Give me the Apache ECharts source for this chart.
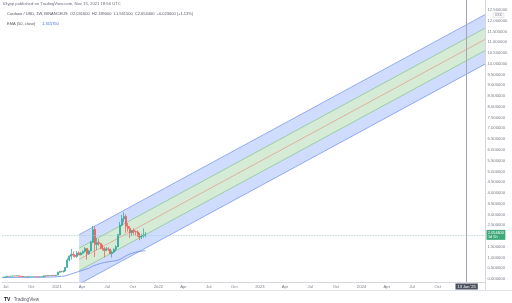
<!DOCTYPE html>
<html><head><meta charset="utf-8">
<script src="https://cdn.jsdelivr.net/npm/echarts@6/dist/echarts.min.js"></script>
<style>html,body{margin:0;padding:0;background:#fff}#c{width:512px;height:303px}</style>
</head><body><div id="c"></div>
<script>
// ---- data ----
const weeks = ['2020-06-22','2020-06-29','2020-07-06','2020-07-13','2020-07-20','2020-07-27','2020-08-03','2020-08-10','2020-08-17','2020-08-24','2020-08-31','2020-09-07','2020-09-14','2020-09-21','2020-09-28','2020-10-05','2020-10-12','2020-10-19','2020-10-26','2020-11-02','2020-11-09','2020-11-16','2020-11-23','2020-11-30','2020-12-07','2020-12-14','2020-12-21','2020-12-28',
'2021-01-04','2021-01-11','2021-01-18','2021-01-25','2021-02-01','2021-02-08','2021-02-15','2021-02-22','2021-03-01','2021-03-08','2021-03-15','2021-03-22','2021-03-29','2021-04-05','2021-04-12','2021-04-19','2021-04-26','2021-05-03','2021-05-10','2021-05-17','2021-05-24','2021-05-31','2021-06-07','2021-06-14','2021-06-21','2021-06-28','2021-07-05','2021-07-12','2021-07-19','2021-07-26','2021-08-02','2021-08-09','2021-08-16','2021-08-23','2021-08-30','2021-09-06','2021-09-13','2021-09-20','2021-09-27','2021-10-04','2021-10-11','2021-10-18','2021-10-25','2021-11-01','2021-11-08','2021-11-15'];
const opens  = [.078,.084,.098,.128,.125,.136,.140,.138,.148,.123,.115,.090,.094,.092,.098,.100,.104,.105,.100,.092,.098,.104,.150,.140,.160,.155,.168,.160,
.180,.310,.350,.340,.380,.540,.880,1.060,1.150,1.100,1.050,1.210,1.120,1.200,1.280,1.420,1.170,1.300,1.700,2.300,1.600,1.700,1.640,1.550,1.420,1.320,1.400,1.380,1.180,1.250,1.380,1.500,2.050,2.500,2.800,2.900,2.450,2.350,2.150,2.250,2.200,2.180,2.100,1.950,2.000,2.0316];
const highs  = [.088,.100,.130,.136,.140,.160,.150,.155,.152,.128,.120,.100,.098,.100,.104,.106,.110,.112,.104,.102,.108,.155,.175,.175,.162,.175,.175,.185,
.340,.380,.380,.400,.560,.960,1.100,1.400,1.280,1.160,1.300,1.280,1.250,1.330,1.480,1.440,1.360,1.780,2.470,2.450,1.900,1.850,1.680,1.600,1.480,1.480,1.470,1.400,1.330,1.420,1.560,2.100,2.650,2.970,3.100,3.000,2.600,2.450,2.280,2.350,2.250,2.250,2.150,2.100,2.350,2.189];
const lows   = [.075,.080,.095,.118,.120,.128,.126,.130,.120,.110,.085,.085,.088,.085,.094,.096,.100,.100,.088,.086,.094,.100,.120,.135,.140,.150,.140,.150,
.180,.290,.310,.300,.360,.520,.820,.900,1.020,1.000,.990,1.100,1.100,1.150,1.230,.900,1.130,1.280,1.660,1.020,1.350,1.550,1.380,1.320,1.000,1.300,1.300,1.150,1.000,1.200,1.280,1.480,2.000,2.450,2.640,2.150,2.200,1.900,2.000,2.050,2.000,1.950,1.800,1.850,1.920,1.9415];
const closes = [.084,.098,.128,.125,.136,.140,.138,.148,.123,.115,.090,.094,.092,.098,.100,.104,.105,.100,.092,.098,.104,.150,.140,.160,.155,.168,.160,.180,
.310,.350,.340,.380,.540,.880,1.060,1.150,1.100,1.050,1.210,1.120,1.200,1.280,1.420,1.170,1.300,1.700,2.300,1.600,1.700,1.640,1.550,1.420,1.320,1.400,1.380,1.180,1.250,1.380,1.500,2.050,2.500,2.800,2.900,2.450,2.350,2.150,2.250,2.200,2.180,2.100,1.950,2.000,2.030,2.0544];
const ema50  = [.062,.063,.065,.067,.069,.071,.073,.075,.077,.078,.079,.079,.080,.080,.081,.081,.082,.082,.082,.083,.083,.084,.086,.088,.090,.093,.095,.098,
.107,.115,.123,.132,.146,.171,.202,.235,.265,.292,.324,.351,.380,.410,.444,.468,.496,.537,.597,.630,.666,.697,.724,.746,.763,.779,.798,.815,.826,.837,.852,.871,.909,.961,1.021,1.082,1.124,1.160,1.188,1.217,1.244,1.268,1.285,1.297,1.306,1.3157];

const channelDates  = ['2021-03-22','2025-03-20'];
const channelCenter = [0.91, 11.13];
const innerDev = 0.52;
const outerDev = 1.15;

const markerDate = '2025-01-13';
const markerLabel = "13 Jan '25";
const lastPrice = 2.0544;
const lastPriceLabel = '2.054400\n1d 5h';

const timeTickDates  = ['2020-07-01','2020-10-01','2021-01-01','2021-04-01','2021-07-01','2021-10-01','2022-01-01','2022-04-01','2022-07-01','2022-10-01','2023-01-01','2023-04-01','2023-07-01','2023-10-01','2024-01-01','2024-04-01','2024-07-01','2024-10-01'];
const timeTickLabels = ['Jul','Oct','2021','Apr','Jul','Oct','2022','Apr','Jul','Oct','2023','Apr','Jul','Oct','2024','Apr','Jul','Oct'];
const priceTicks = [0,0.5,1,1.5,2,2.5,3,3.5,4,4.5,5,5.5,6,6.5,7,7.5,8,8.5,9,9.5,10,10.5,11,11.5,12,12.5];

// ---- build ----
const T = s => Date.parse(s + 'T00:00:00Z');
const candleData = weeks.map((w,i)=>[T(w), opens[i], closes[i], lows[i], highs[i]]);
const emaData = weeks.map((w,i)=>[T(w), ema50[i]]);
const cd = channelDates.map(T);
const pts = off => cd.map((t,i)=>[t, channelCenter[i] + off]);
// band rows: [t0, t1, lo0, lo1, hi0, hi1, colorIndex]
const bandRows = [
  [cd[0], cd[1], channelCenter[0]-outerDev, channelCenter[1]-outerDev, channelCenter[0]-innerDev, channelCenter[1]-innerDev, 0],
  [cd[0], cd[1], channelCenter[0]-innerDev, channelCenter[1]-innerDev, channelCenter[0]+innerDev, channelCenter[1]+innerDev, 1],
  [cd[0], cd[1], channelCenter[0]+innerDev, channelCenter[1]+innerDev, channelCenter[0]+outerDev, channelCenter[1]+outerDev, 0]
];
const tickTs = timeTickDates.map(T);
const tickLabelFor = v => { let best='', bd=Infinity; tickTs.forEach((t,i)=>{const d=Math.abs(t-v); if(d<bd){bd=d;best=timeTickLabels[i];}}); return bd < 864e5 ? best : ''; };

const FONT = 'Liberation Sans';
const GREY = '#787b86';
const bandFills = ['#d0dcfd', '#d6ebd5'];
const blueEdge = '#7c97f4', greenEdge = '#88c48c', redEdge = '#e3978a';

function edge(data, color, w){
  return {type:'line', data, symbol:'none', silent:true, lineStyle:{color, width:w||0.8}, z:2};
}

const chart = echarts.init(document.getElementById('c'), null, {renderer:'canvas'});
chart.setOption({
  animation:false,
  backgroundColor:'#fff',
  grid:{left:0, right:27, top:0, bottom:21, containLabel:false},
  xAxis:{type:'value', min:T('2020-06-18'), max:T('2025-03-20'),
    axisLine:{show:true, onZero:false, lineStyle:{color:'#d6d8de', width:1}},
    axisTick:{show:false},
    splitLine:{show:false},
    axisLabel:{customValues:tickTs, formatter:v=>tickLabelFor(v), fontSize:4.2, color:GREY, fontFamily:FONT, margin:2.5, hideOverlap:false, showMinLabel:true, showMaxLabel:true}
  },
  yAxis:{type:'value', position:'right', min:-0.14, max:12.96, scale:true,
    axisLine:{show:true, lineStyle:{color:'#d6d8de', width:1}},
    axisTick:{show:false},
    splitLine:{show:false},
    axisLabel:{customValues:priceTicks, formatter:v=>Number(v).toFixed(6), fontSize:4.2, color:GREY, fontFamily:FONT, margin:2.5}
  },
  series:[
    {type:'custom', data:bandRows, silent:true, clip:true, z:1,
      encode:{x:[0,1], y:[2,3,4,5]},
      renderItem:(params, api)=>{
        const p = [api.coord([api.value(0), api.value(2)]), api.coord([api.value(1), api.value(3)]),
                   api.coord([api.value(1), api.value(5)]), api.coord([api.value(0), api.value(4)])];
        return {type:'polygon', shape:{points:p}, style:{fill:bandFills[api.value(6)], stroke:null}};
      }},
    edge(pts(-outerDev), blueEdge),
    edge(pts(outerDev), blueEdge),
    edge(pts(-innerDev), greenEdge),
    edge(pts(innerDev), greenEdge),
    edge(pts(0), redEdge, 0.7),
    {type:'line', data:emaData, symbol:'none', silent:true, lineStyle:{color:'#6f8fe8', width:0.8}, z:3},
    {type:'candlestick', data:candleData, barWidth:1.5, z:4, silent:true,
      itemStyle:{color:'#26a69a', color0:'#ef5350', borderColor:'#26a69a', borderColor0:'#ef5350', borderWidth:0.7},
      markLine:{symbol:'none', silent:true, animation:false,
        data:[
          {yAxis:lastPrice, lineStyle:{color:'#9ccfc9', type:'dotted', width:0.8},
            label:{position:'end', formatter:lastPriceLabel, backgroundColor:'#3fa87a', color:'#fff', fontSize:3.8, lineHeight:4.5, padding:[0.5,1.5], distance:1.5, fontFamily:FONT}},
          {xAxis:T(markerDate), lineStyle:{color:'#a3a6ae', type:'solid', width:1},
            label:{position:'start', formatter:markerLabel, backgroundColor:'#4c525e', color:'#fff', fontSize:4, padding:[1,2], distance:1.5, fontFamily:FONT}}
        ]}
    }
  ],
  graphic:[
    {type:'line', shape:{x1:0,y1:290.5,x2:512,y2:290.5}, style:{stroke:'#e0e3eb', lineWidth:1}, silent:true},
    {type:'line', shape:{x1:485.5,y1:282,x2:485.5,y2:290}, style:{stroke:'#d6d8de', lineWidth:1}, silent:true},
    {type:'text', left:3, top:2, style:{text:'k3ypp published on TradingView.com, Nov 15, 2021 18:56 UTC', fontSize:4.2, fill:'#6a6d78', fontFamily:FONT}},
    {type:'text', left:7, top:12, style:{text:'Cardano / USD, 1W, BINANCEUS  O2.031600  H2.189000  L1.941500  C2.054400  +0.023000 (+1.13%)', fontSize:4, fill:'#555862', fontFamily:FONT}},
    {type:'text', left:7, top:17.5, style:{rich:{a:{fontSize:4, fill:'#555862', fontFamily:FONT}, b:{fontSize:4, fill:'#3a66e0', fontFamily:FONT}}, text:'{a|EMA (50, close)}  {b|1.315750}'}},
    {type:'text', left:493, top:12.5, style:{text:'USD', fontSize:3.6, fill:GREY, fontFamily:FONT, borderColor:'#c8cad0', borderWidth:0.5, padding:[0.3,1.5]}},
    {type:'text', left:4, top:294, style:{rich:{l:{fontSize:5, fontWeight:'bold', fill:'#131722', fontFamily:FONT}, t:{fontSize:4.6, fill:'#555862', fontFamily:FONT}}, text:'{l|TV} {t|TradingView}'}}
  ]
});
</script></body></html>
